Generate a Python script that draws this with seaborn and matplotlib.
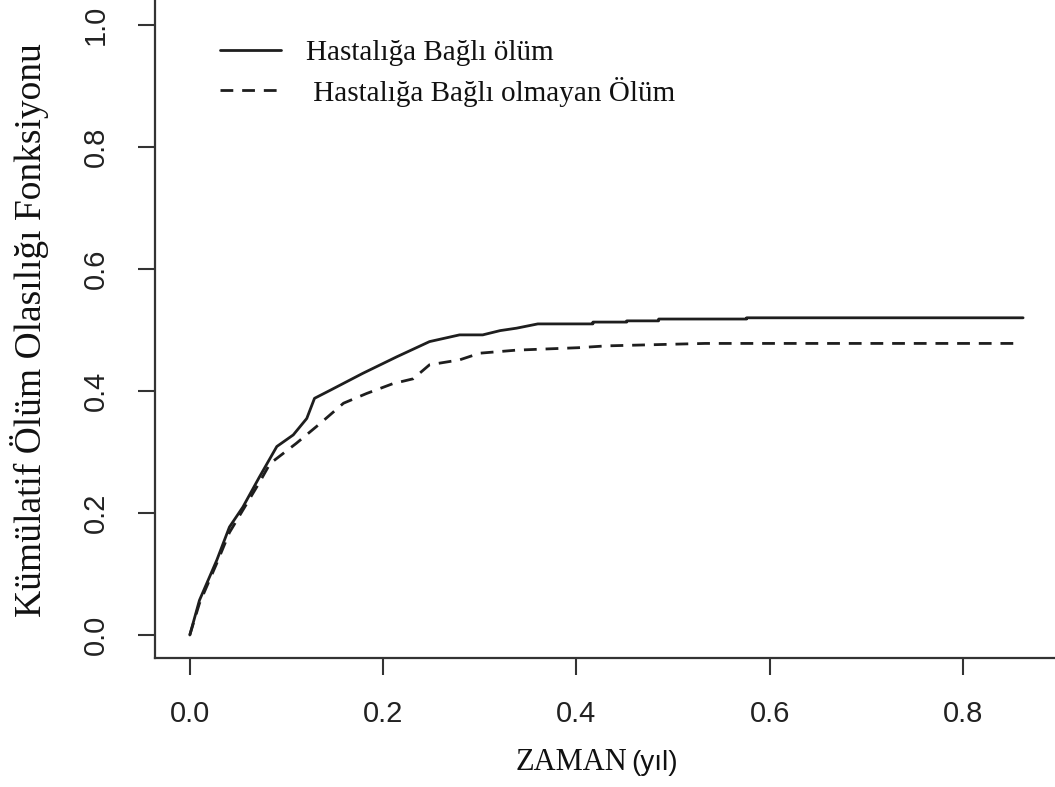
import matplotlib
matplotlib.use("Agg")
import matplotlib.pyplot as plt
import seaborn as sns
import pandas as pd

# ---- data ----
time_disease = [0.0, 0.010, 0.028, 0.041, 0.055, 0.072, 0.090, 0.107, 0.121, 0.129,
                0.145, 0.179, 0.214, 0.248, 0.279, 0.303, 0.321, 0.338, 0.360, 0.417,
                0.417, 0.452, 0.452, 0.485, 0.485, 0.576, 0.576, 0.862]
cif_disease = [0.000, 0.057, 0.123, 0.177, 0.210, 0.259, 0.309, 0.328, 0.355, 0.388,
               0.401, 0.429, 0.456, 0.481, 0.492, 0.492, 0.499, 0.503, 0.510, 0.510,
               0.513, 0.513, 0.515, 0.515, 0.518, 0.518, 0.520, 0.520]

time_other = [0.0, 0.010, 0.028, 0.041, 0.055, 0.072, 0.083, 0.110, 0.135, 0.159,
              0.183, 0.210, 0.231, 0.248, 0.279, 0.300, 0.338, 0.402, 0.431, 0.533,
              0.854]
cif_other = [0.000, 0.052, 0.118, 0.168, 0.205, 0.250, 0.281, 0.314, 0.347, 0.380,
             0.396, 0.412, 0.420, 0.443, 0.451, 0.462, 0.467, 0.471, 0.474, 0.478,
             0.478]

label_disease = "Hastalığa Bağlı ölüm"
label_other = " Hastalığa Bağlı olmayan Ölüm"
x_ticks = [0.0, 0.2, 0.4, 0.6, 0.8]
y_ticks = [0.0, 0.2, 0.4, 0.6, 0.8, 1.0]
x_title = "ZAMAN"
x_unit = "(yıl)"
y_title = "Kümülatif Ölüm Olasılığı Fonksiyonu"

df = pd.concat([
    pd.DataFrame({"t": time_disease, "cif": cif_disease, "grp": label_disease}),
    pd.DataFrame({"t": time_other, "cif": cif_other, "grp": label_other}),
], ignore_index=True)

sns.set_style("white")
plt.rcParams["font.family"] = ["Liberation Serif", "DejaVu Serif"]

W, H = 1055, 787
fig = plt.figure(figsize=(W / 100, H / 100), dpi=100)
ax = fig.add_axes([155 / W, 1 - 658 / H, 1 - 155 / W, 658 / H])

line_col = "#1e1e1e"
sns.lineplot(data=df, x="t", y="cif", hue="grp", style="grp",
             hue_order=[label_disease, label_other], style_order=[label_disease, label_other],
             palette=[line_col, line_col],
             dashes={label_disease: "", label_other: (4.6, 3.2)},
             sort=False, estimator=None,
             linewidth=2.0, ax=ax)

ax.set_xlim(-0.036, 0.895)
ax.set_ylim(-0.0377, 1.041)
ax.set_xticks(x_ticks)
ax.set_yticks(y_ticks)
ax.set_xticklabels([f"{v:.1f}" for v in x_ticks], family=["Liberation Sans", "DejaVu Sans"], fontsize=21, color="#222222")
ax.set_yticklabels([f"{v:.1f}" for v in y_ticks], family=["Liberation Sans", "DejaVu Sans"], fontsize=21,
                   rotation=90, va="center", color="#222222")
ax.tick_params(axis="both", direction="out", length=12.5, width=1.5, color="#333333",
               bottom=True, left=True, top=False, right=False)
ax.tick_params(axis="x", pad=18)
ax.tick_params(axis="y", pad=20)
ax.set_xlabel("")
ax.set_ylabel("")

for side in ["top", "right"]:
    ax.spines[side].set_visible(False)
for side in ["left", "bottom"]:
    ax.spines[side].set_color("#333333")
    ax.spines[side].set_linewidth(1.6)

leg = ax.legend(loc="upper left", bbox_to_anchor=((220 - 155) / 900, 1 - 40 / 658),
                frameon=False, fontsize=21, handlelength=2.1, handletextpad=0.85,
                labelspacing=0.35, borderpad=0, borderaxespad=0)
for t in leg.get_texts():
    t.set_color("#111111")

fig.text(627 / W, 1 - 763 / H, x_title, ha="right", va="center", fontsize=22, color="#111111")
fig.text(631 / W, 1 - 763 / H, x_unit, ha="left", va="center", fontsize=20,
         family=["Liberation Sans", "DejaVu Sans"], color="#111111")
fig.text(30 / W, 1 - 330 / H, y_title, ha="center", va="center", rotation=90,
         fontsize=27, color="#111111")

fig.savefig("out.png", dpi=100)
